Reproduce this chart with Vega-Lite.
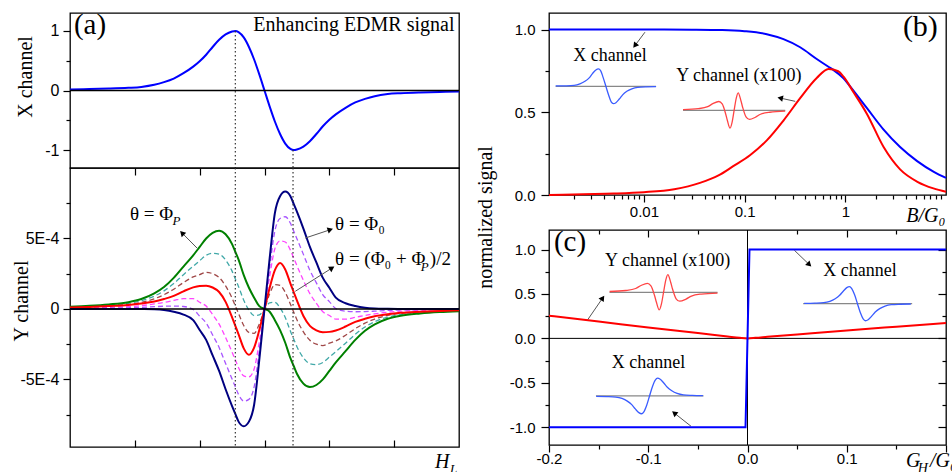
{
"$schema": "https://vega.github.io/schema/vega-lite/v6.json",
"autosize": {"type": "pad"},
"padding": {"left": 10, "top": 10, "right": 5, "bottom": 5},
"background": "white",
"config": {
  "view": {"stroke": "#000", "strokeWidth": 1.3},
  "axis": {"domain": false, "grid": false, "tickColor": "#000", "tickWidth": 1.2, "labelFont": "Liberation Sans", "labelFontSize": 15, "labelColor": "#000", "labelOverlap": false, "labelFlush": false, "titleFont": "Liberation Serif", "titleFontSize": 20, "titleFontWeight": "normal", "titleColor": "#000"},
  "text": {"font": "Liberation Serif", "color": "#000"},
  "line": {"interpolate": "monotone"}
},
"datasets": {
  "a": [
    {"x":-3.0,"X":0.018,"G":0.16,"C":0.13,"B":0.11,"R":0.1,"M":0.05,"V":0.03,"N":0},
    {"x":-2.7,"X":0.024,"G":0.22,"C":0.18,"B":0.15,"R":0.14,"M":0.07,"V":0.04,"N":0},
    {"x":-2.4,"X":0.032,"G":0.32,"C":0.27,"B":0.21,"R":0.2,"M":0.11,"V":0.05,"N":0},
    {"x":-2.1,"X":0.045,"G":0.48,"C":0.4,"B":0.32,"R":0.28,"M":0.16,"V":0.08,"N":0},
    {"x":-1.9,"X":0.06,"G":0.7,"C":0.58,"B":0.46,"R":0.38,"M":0.23,"V":0.11,"N":-0.01},
    {"x":-1.7,"X":0.095,"G":1.1,"C":0.91,"B":0.72,"R":0.52,"M":0.35,"V":0.16,"N":-0.03},
    {"x":-1.55,"X":0.14,"G":1.55,"C":1.28,"B":1.01,"R":0.7,"M":0.46,"V":0.19,"N":-0.08},
    {"x":-1.4,"X":0.2,"G":2.2,"C":1.8,"B":1.4,"R":0.92,"M":0.6,"V":0.2,"N":-0.2},
    {"x":-1.25,"X":0.29,"G":3.0,"C":2.43,"B":1.87,"R":1.25,"M":0.73,"V":0.17,"N":-0.4},
    {"x":-1.1,"X":0.4,"G":3.8,"C":3.03,"B":2.27,"R":1.53,"M":0.73,"V":-0.03,"N":-0.8},
    {"x":-1.0,"X":0.49,"G":4.4,"C":3.42,"B":2.43,"R":1.63,"M":0.47,"V":-0.52,"N":-1.5},
    {"x":-0.9,"X":0.6,"G":5.0,"C":3.8,"B":2.6,"R":1.65,"M":0.2,"V":-1.0,"N":-2.2},
    {"x":-0.8,"X":0.73,"G":5.4,"C":3.95,"B":2.5,"R":1.52,"M":-0.4,"V":-1.85,"N":-3.3},
    {"x":-0.7,"X":0.85,"G":5.55,"C":3.89,"B":2.23,"R":1.2,"M":-1.08,"V":-2.74,"N":-4.4},
    {"x":-0.6,"X":0.94,"G":5.3,"C":3.47,"B":1.63,"R":0.5,"M":-2.03,"V":-3.87,"N":-5.7},
    {"x":-0.5,"X":0.99,"G":4.6,"C":2.68,"B":0.77,"R":-0.6,"M":-3.07,"V":-4.98,"N":-6.9},
    {"x":-0.45,"X":1.0,"G":4.05,"C":2.13,"B":0.22,"R":-1.2,"M":-3.62,"V":-5.53,"N":-7.45},
    {"x":-0.4,"X":0.98,"G":3.5,"C":1.58,"B":-0.33,"R":-1.8,"M":-4.17,"V":-6.08,"N":-8.0},
    {"x":-0.32,"X":0.89,"G":2.4,"C":0.61,"B":-1.18,"R":-2.8,"M":-4.75,"V":-6.54,"N":-8.33},
    {"x":-0.24,"X":0.73,"G":1.5,"C":-0.08,"B":-1.67,"R":-3.26,"M":-4.83,"V":-6.42,"N":-8.0},
    {"x":-0.16,"X":0.52,"G":0.8,"C":-0.47,"B":-1.73,"R":-2.75,"M":-4.27,"V":-5.53,"N":-6.8},
    {"x":-0.08,"X":0.27,"G":0.2,"C":-0.43,"B":-1.07,"R":-1.5,"M":-2.33,"V":-2.97,"N":-3.6},
    {"x":0,"X":0,"G":0,"C":0,"B":0,"R":0,"M":0,"V":0,"N":0},
    {"x":0.08,"X":-0.27,"G":-0.2,"C":0.43,"B":1.07,"R":1.5,"M":2.33,"V":2.97,"N":3.6},
    {"x":0.16,"X":-0.52,"G":-0.8,"C":0.47,"B":1.73,"R":2.75,"M":4.27,"V":5.53,"N":6.8},
    {"x":0.24,"X":-0.73,"G":-1.5,"C":0.08,"B":1.67,"R":3.26,"M":4.83,"V":6.42,"N":8.0},
    {"x":0.32,"X":-0.89,"G":-2.4,"C":-0.61,"B":1.18,"R":2.8,"M":4.75,"V":6.54,"N":8.33},
    {"x":0.4,"X":-0.98,"G":-3.5,"C":-1.58,"B":0.33,"R":1.8,"M":4.17,"V":6.08,"N":8.0},
    {"x":0.45,"X":-1.0,"G":-4.05,"C":-2.13,"B":-0.22,"R":1.2,"M":3.62,"V":5.53,"N":7.45},
    {"x":0.5,"X":-0.99,"G":-4.6,"C":-2.68,"B":-0.77,"R":0.6,"M":3.07,"V":4.98,"N":6.9},
    {"x":0.6,"X":-0.94,"G":-5.3,"C":-3.47,"B":-1.63,"R":-0.5,"M":2.03,"V":3.87,"N":5.7},
    {"x":0.7,"X":-0.85,"G":-5.55,"C":-3.89,"B":-2.23,"R":-1.2,"M":1.08,"V":2.74,"N":4.4},
    {"x":0.8,"X":-0.73,"G":-5.4,"C":-3.95,"B":-2.5,"R":-1.52,"M":0.4,"V":1.85,"N":3.3},
    {"x":0.9,"X":-0.6,"G":-5.0,"C":-3.8,"B":-2.6,"R":-1.65,"M":-0.2,"V":1.0,"N":2.2},
    {"x":1.0,"X":-0.49,"G":-4.4,"C":-3.42,"B":-2.43,"R":-1.63,"M":-0.47,"V":0.52,"N":1.5},
    {"x":1.1,"X":-0.4,"G":-3.8,"C":-3.03,"B":-2.27,"R":-1.53,"M":-0.73,"V":0.03,"N":0.8},
    {"x":1.25,"X":-0.29,"G":-3.0,"C":-2.43,"B":-1.87,"R":-1.25,"M":-0.73,"V":-0.17,"N":0.4},
    {"x":1.4,"X":-0.2,"G":-2.2,"C":-1.8,"B":-1.4,"R":-0.92,"M":-0.6,"V":-0.2,"N":0.2},
    {"x":1.55,"X":-0.14,"G":-1.55,"C":-1.28,"B":-1.01,"R":-0.7,"M":-0.46,"V":-0.19,"N":0.08},
    {"x":1.7,"X":-0.095,"G":-1.1,"C":-0.91,"B":-0.72,"R":-0.52,"M":-0.35,"V":-0.16,"N":0.03},
    {"x":1.9,"X":-0.06,"G":-0.7,"C":-0.58,"B":-0.46,"R":-0.38,"M":-0.23,"V":-0.11,"N":0.01},
    {"x":2.1,"X":-0.045,"G":-0.48,"C":-0.4,"B":-0.32,"R":-0.28,"M":-0.16,"V":-0.08,"N":0},
    {"x":2.4,"X":-0.032,"G":-0.32,"C":-0.27,"B":-0.21,"R":-0.2,"M":-0.11,"V":-0.05,"N":0},
    {"x":2.7,"X":-0.024,"G":-0.22,"C":-0.18,"B":-0.15,"R":-0.14,"M":-0.07,"V":-0.04,"N":0},
    {"x":3.0,"X":-0.018,"G":-0.16,"C":-0.13,"B":-0.11,"R":-0.1,"M":-0.05,"V":-0.03,"N":0}
  ],
  "bX": [
    {"x":0.00114,"y":1.0},{"x":0.01,"y":1.0},{"x":0.03,"y":0.999},{"x":0.06,"y":0.997},{"x":0.1,"y":0.99},{"x":0.166,"y":0.972},{"x":0.243,"y":0.942},{"x":0.356,"y":0.893},{"x":0.52,"y":0.822},{"x":0.68,"y":0.775},{"x":0.765,"y":0.755},{"x":0.96,"y":0.705},{"x":1.12,"y":0.655},{"x":1.64,"y":0.525},{"x":2.4,"y":0.395},{"x":3.5,"y":0.29},{"x":5.17,"y":0.205},{"x":7.57,"y":0.14},{"x":10,"y":0.103}
  ],
  "bY": [
    {"x":0.00114,"y":0.0},{"x":0.0025,"y":0.005},{"x":0.005,"y":0.009},{"x":0.01,"y":0.017},{"x":0.02,"y":0.035},{"x":0.036,"y":0.073},{"x":0.055,"y":0.118},{"x":0.077,"y":0.174},{"x":0.113,"y":0.24},{"x":0.166,"y":0.33},{"x":0.243,"y":0.45},{"x":0.356,"y":0.585},{"x":0.52,"y":0.707},{"x":0.68,"y":0.762},{"x":0.85,"y":0.748},{"x":0.96,"y":0.715},{"x":1.21,"y":0.62},{"x":1.64,"y":0.49},{"x":2.4,"y":0.29},{"x":3.5,"y":0.155},{"x":5.2,"y":0.08},{"x":7.5,"y":0.04},{"x":10,"y":0.02}
  ],
  "bIX": [
    {"x":0.001328,"y":0.659},{"x":0.001671,"y":0.66},{"x":0.002024,"y":0.663},{"x":0.002312,"y":0.672},{"x":0.002594,"y":0.687},{"x":0.002857,"y":0.708},{"x":0.003081,"y":0.734},{"x":0.00333,"y":0.756},{"x":0.003527,"y":0.762},{"x":0.003709,"y":0.752},{"x":0.003936,"y":0.7095},{"x":0.004187,"y":0.657},{"x":0.004455,"y":0.6045},{"x":0.004727,"y":0.5625},{"x":0.004972,"y":0.552},{"x":0.005266,"y":0.558},{"x":0.005691,"y":0.58},{"x":0.00614,"y":0.6055},{"x":0.006759,"y":0.627},{"x":0.007578,"y":0.642},{"x":0.008656,"y":0.651},{"x":0.01049,"y":0.654},{"x":0.01319,"y":0.655}
  ],
  "bIY": [
    {"x":0.02444,"y":0.5156},{"x":0.0347,"y":0.5218},{"x":0.04298,"y":0.5339},{"x":0.04832,"y":0.5519},{"x":0.05537,"y":0.565},{"x":0.05985,"y":0.5502},{"x":0.06471,"y":0.4914},{"x":0.06729,"y":0.4521},{"x":0.0716,"y":0.4044},{"x":0.07503,"y":0.4391},{"x":0.07862,"y":0.511},{"x":0.08237,"y":0.5829},{"x":0.08631,"y":0.6176},{"x":0.09188,"y":0.5699},{"x":0.09553,"y":0.5306},{"x":0.1032,"y":0.4718},{"x":0.1116,"y":0.457},{"x":0.1279,"y":0.4701},{"x":0.1438,"y":0.4881},{"x":0.1781,"y":0.5002},{"x":0.2529,"y":0.5064}
  ],
  "cX": [
    {"x":-0.2,"y":-1},{"x":-0.002,"y":-1},{"x":0.002,"y":1},{"x":0.2,"y":1}
  ],
  "cY": [
    {"x":-0.2,"y":0.255},{"x":-0.15,"y":0.19},{"x":-0.1,"y":0.122},{"x":-0.05,"y":0.06},{"x":-0.02,"y":0.022},{"x":-0.008,"y":0.007},{"x":0,"y":0},{"x":0.008,"y":0.006},{"x":0.02,"y":0.018},{"x":0.05,"y":0.045},{"x":0.1,"y":0.09},{"x":0.15,"y":0.132},{"x":0.2,"y":0.173}
  ],
  "cIY": [
    {"x":-0.13897,"y":0.5275},{"x":-0.12266,"y":0.5391},{"x":-0.11269,"y":0.5617},{"x":-0.10725,"y":0.5953},{"x":-0.1009,"y":0.6197},{"x":-0.09728,"y":0.5922},{"x":-0.09365,"y":0.4824},{"x":-0.09184,"y":0.4092},{"x":-0.08894,"y":0.3201},{"x":-0.08677,"y":0.3848},{"x":-0.08459,"y":0.519},{"x":-0.08241,"y":0.6532},{"x":-0.08024,"y":0.7179},{"x":-0.07734,"y":0.6288},{"x":-0.07553,"y":0.5556},{"x":-0.0719,"y":0.4458},{"x":-0.06828,"y":0.4184},{"x":-0.06193,"y":0.4428},{"x":-0.05649,"y":0.4763},{"x":-0.04652,"y":0.4989},{"x":-0.03021,"y":0.5105}
  ],
  "cIX1": [
    {"x":0.057,"y":0.394},{"x":0.06776,"y":0.3966},{"x":0.07672,"y":0.402},{"x":0.083,"y":0.4174},{"x":0.08837,"y":0.4462},{"x":0.09285,"y":0.4846},{"x":0.09644,"y":0.5307},{"x":0.10002,"y":0.571},{"x":0.10271,"y":0.5825},{"x":0.10504,"y":0.5614},{"x":0.10791,"y":0.4903},{"x":0.11078,"y":0.3905},{"x":0.11365,"y":0.2907},{"x":0.11652,"y":0.2196},{"x":0.11885,"y":0.1985},{"x":0.12154,"y":0.21},{"x":0.12512,"y":0.2503},{"x":0.12871,"y":0.2964},{"x":0.13319,"y":0.3348},{"x":0.13856,"y":0.3636},{"x":0.14484,"y":0.379},{"x":0.1538,"y":0.3844},{"x":0.16456,"y":0.387}
  ],
  "cIX2": [
    {"x":-0.15247,"y":-0.6516},{"x":-0.14171,"y":-0.6544},{"x":-0.13275,"y":-0.66},{"x":-0.12647,"y":-0.676},{"x":-0.1211,"y":-0.706},{"x":-0.11662,"y":-0.746},{"x":-0.11303,"y":-0.794},{"x":-0.10945,"y":-0.836},{"x":-0.10676,"y":-0.848},{"x":-0.10443,"y":-0.826},{"x":-0.10156,"y":-0.752},{"x":-0.09869,"y":-0.648},{"x":-0.09582,"y":-0.544},{"x":-0.09295,"y":-0.47},{"x":-0.09062,"y":-0.448},{"x":-0.08794,"y":-0.46},{"x":-0.08435,"y":-0.502},{"x":-0.08077,"y":-0.55},{"x":-0.07628,"y":-0.59},{"x":-0.07091,"y":-0.62},{"x":-0.06463,"y":-0.636},{"x":-0.05567,"y":-0.6416},{"x":-0.04491,"y":-0.6444}
  ]
},
"spacing": 10,
"bounds": "full",
"hconcat": [
 {
  "spacing": 0,
  "bounds": "flush",
  "vconcat": [
   {
    "width": 389, "height": 155,
    "encoding": {
      "x": {"field": "x", "type": "quantitative", "scale": {"domain": [-3, 3], "nice": false, "zero": false}, "axis": null},
      "y": {"field": "y", "type": "quantitative", "scale": {"domain": [-1.3, 1.3], "nice": false, "zero": false},
            "axis": {"values": [-1, -0.5, 0, 0.5, 1], "labelExpr": "datum.value == 1 ? '1' : datum.value == 0 ? '0' : datum.value == -1 ? '-1' : ''", "tickSize": {"condition": {"test": "abs(datum.value) == 0.5", "value": 4}, "value": 7}, "labelPadding": 4, "labelFontSize": 16, "title": "X channel", "titleX": -39, "titleY": 63.5, "titleAngle": -90, "titleAlign": "center", "titleBaseline": "alphabetic"}}
    },
    "layer": [
      {"data": {"name": "a"}, "transform": [{"fold": ["X"], "as": ["s", "y"]}], "mark": {"type": "line", "color": "#0000ff", "strokeWidth": 2}},
      {"data": {"values": [{"x": -3, "x2": 3, "y": 0}]}, "mark": {"type": "rule", "color": "#000", "strokeWidth": 1.5}, "encoding": {"x2": {"field": "x2"}}},
      {"data": {"values": [{"x": -0.45, "y": 1, "y2": -1.3}, {"x": 0.44, "y": -1, "y2": -1.3}]}, "mark": {"type": "rule", "color": "#333", "strokeWidth": 1.2, "strokeDash": [1.5, 2.5]}, "encoding": {"y2": {"field": "y2"}}},
      {"data": {"values": [{"x": -2.94, "y": 0.948, "t": "(a)"}]}, "mark": {"type": "text", "align": "left", "baseline": "alphabetic", "fontSize": 29}, "encoding": {"text": {"field": "t"}}},
      {"data": {"values": [{"x": 2.93, "y": 0.993, "t": "Enhancing EDMR signal"}]}, "mark": {"type": "text", "align": "right", "baseline": "alphabetic", "fontSize": 20}, "encoding": {"text": {"field": "t"}}}
    ]
   },
   {
    "width": 389, "height": 279,
    "encoding": {
      "x": {"field": "x", "type": "quantitative", "scale": {"domain": [-3, 3], "nice": false, "zero": false}, "axis": null},
      "y": {"field": "y", "type": "quantitative", "scale": {"domain": [-9.8, 10], "nice": false, "zero": false},
            "axis": {"values": [-7.5, -5, -2.5, 0, 2.5, 5, 7.5], "labelExpr": "datum.value == 5 ? '5E-4' : datum.value == -5 ? '-5E-4' : datum.value == 0 ? '0' : ''", "tickSize": {"condition": {"test": "datum.value % 5 == 0", "value": 7}, "value": 4}, "labelPadding": 4, "labelFontSize": 16, "title": "Y channel", "titleX": -43, "titleY": 132.5, "titleAngle": -90, "titleAlign": "center", "titleBaseline": "alphabetic"}}
    },
    "resolve": {"axis": {"x": "independent"}},
    "layer": [
      {"data": {"name": "a"}, "transform": [{"fold": ["C", "B", "M", "V"], "as": ["s", "y"]}], "mark": {"type": "line", "strokeWidth": 1.3, "strokeDash": [5, 3]},
       "encoding": {"color": {"field": "s", "type": "nominal", "scale": {"domain": ["G", "C", "B", "R", "M", "V", "N"], "range": ["#008000", "#40a8a8", "#a04848", "#ff0000", "#ff44ff", "#a855ff", "#000080"]}, "legend": null}}},
      {"data": {"name": "a"}, "transform": [{"fold": ["G", "R", "N"], "as": ["s", "y"]}], "mark": {"type": "line", "strokeWidth": 2},
       "encoding": {
         "x": {"field": "x", "type": "quantitative", "scale": {"domain": [-3, 3], "nice": false, "zero": false}, "axis": {"orient": "bottom", "values": [-2, -1, 0, 1, 2], "labels": false, "tickSize": -7, "title": null}},
         "color": {"field": "s", "type": "nominal", "scale": {"domain": ["G", "C", "B", "R", "M", "V", "N"], "range": ["#008000", "#40a8a8", "#a04848", "#ff0000", "#ff44ff", "#a855ff", "#000080"]}, "legend": null}}},
      {"data": {"values": [{"x": -3, "x2": 3, "y": 0}]}, "mark": {"type": "rule", "color": "#000", "strokeWidth": 1.5}, "encoding": {"x2": {"field": "x2"}}},
      {"data": {"values": [{"x": -0.45, "y": 10, "y2": -9.8}, {"x": 0.44, "y": 10, "y2": -9.8}]}, "mark": {"type": "rule", "color": "#333", "strokeWidth": 1.2, "strokeDash": [1.5, 2.5]},
       "encoding": {"x": {"field": "x", "type": "quantitative", "scale": {"domain": [-3, 3], "nice": false, "zero": false}, "axis": {"orient": "top", "values": [-2, -1, 0, 1, 2], "labels": false, "tickSize": -7, "title": null}}, "y2": {"field": "y2"}}},
      {"data": {"values": [{"x": -1.041, "y": 4.32, "x2": -1.272, "y2": 5.39}, {"x": 0.629, "y": 5.03, "x2": 1.015, "y2": 5.62}, {"x": 0.475, "y": 1.25, "x2": 1.041, "y2": 2.9}]}, "mark": {"type": "rule", "color": "#555", "strokeWidth": 1}, "encoding": {"x2": {"field": "x2"}, "y2": {"field": "y2"}}},
      {"data": {"values": [{"x": -1.272, "y": 5.39}]}, "mark": {"type": "point", "shape": "triangle-up", "filled": true, "color": "#000", "size": 40, "opacity": 1, "angle": 315}},
      {"data": {"values": [{"x": 1.015, "y": 5.62}]}, "mark": {"type": "point", "shape": "triangle-up", "filled": true, "color": "#000", "size": 40, "opacity": 1, "angle": 72}},
      {"data": {"values": [{"x": 1.041, "y": 2.9}]}, "mark": {"type": "point", "shape": "triangle-up", "filled": true, "color": "#000", "size": 40, "opacity": 1, "angle": 58}},
      {"data": {"values": [{"x": -2.075, "y": 6.33, "t": "θ = Φ"}, {"x": 1.088, "y": 5.62, "t": "θ = Φ₀"}, {"x": 1.088, "y": 3.14, "t": "θ = (Φ₀ + Φ"}, {"x": 2.55, "y": 3.14, "t": ")/2"}]}, "mark": {"type": "text", "align": "left", "baseline": "alphabetic", "fontSize": 19}, "encoding": {"text": {"field": "t"}}},
      {"data": {"values": [{"x": -1.42, "y": 5.95, "t": "P"}, {"x": 2.41, "y": 2.69, "t": "P"}, {"x": 2.862, "y": -11.65, "t": "L"}]}, "mark": {"type": "text", "align": "left", "baseline": "alphabetic", "fontSize": 13, "fontStyle": "italic"}, "encoding": {"text": {"field": "t"}}},
      {"data": {"values": [{"x": 2.63, "y": -11.29, "t": "H"}]}, "mark": {"type": "text", "align": "left", "baseline": "alphabetic", "fontSize": 20, "fontStyle": "italic"}, "encoding": {"text": {"field": "t"}}}
    ]
   }
  ]
 },
 {
  "spacing": 35,
  "bounds": "flush",
  "vconcat": [
   {
    "width": 397, "height": 182,
    "encoding": {
      "x": {"field": "x", "type": "quantitative", "scale": {"type": "log", "domain": [0.00114, 10], "nice": false},
            "axis": {"values": [0.002, 0.003, 0.004, 0.005, 0.006, 0.007, 0.008, 0.009, 0.01, 0.02, 0.03, 0.04, 0.05, 0.06, 0.07, 0.08, 0.09, 0.1, 0.2, 0.3, 0.4, 0.5, 0.6, 0.7, 0.8, 0.9, 1, 2, 3, 4, 5, 6, 7, 8, 9],
                     "labelExpr": "datum.value == 0.01 ? '0.01' : datum.value == 0.1 ? '0.1' : datum.value == 1 ? '1' : ''",
                     "tickSize": {"condition": {"test": "datum.value == 0.01 || datum.value == 0.1 || datum.value == 1", "value": 7}, "value": 4},
                     "labelPadding": 2, "title": "B/G₀", "titleFontStyle": "italic", "titleX": 396, "titleY": 26, "titleAlign": "right", "titleBaseline": "alphabetic", "titleAngle": 0}},
      "y": {"field": "y", "type": "quantitative", "scale": {"domain": [0, 1.1], "nice": false, "zero": false},
            "axis": {"values": [0, 0.25, 0.5, 0.75, 1], "labelExpr": "datum.value == 0 ? '0.0' : datum.value == 0.5 ? '0.5' : datum.value == 1 ? '1.0' : ''", "tickSize": {"condition": {"test": "datum.value == 0.25 || datum.value == 0.75", "value": 4}, "value": 8}, "labelPadding": 6, "title": "normalized signal", "titleX": -58, "titleY": 204, "titleAngle": -90, "titleAlign": "center", "titleBaseline": "alphabetic"}}
    },
    "layer": [
      {"data": {"values": [{"x": 0.001328, "x2": 0.01319, "y": 0.657}, {"x": 0.02444, "x2": 0.2529, "y": 0.511}]}, "mark": {"type": "rule", "color": "#888", "strokeWidth": 1.2}, "encoding": {"x2": {"field": "x2"}}},
      {"data": {"name": "bIX"}, "mark": {"type": "line", "color": "#3a5cff", "strokeWidth": 1.3}},
      {"data": {"name": "bIY"}, "mark": {"type": "line", "color": "#ff4444", "strokeWidth": 1.3}},
      {"data": {"values": [{"x": 0.01023, "y": 0.984, "x2": 0.008135, "y2": 0.903}, {"x": 0.3181, "y": 0.566, "x2": 0.2255, "y2": 0.586}]}, "mark": {"type": "rule", "color": "#555", "strokeWidth": 1}, "encoding": {"x2": {"field": "x2"}, "y2": {"field": "y2"}}},
      {"data": {"values": [{"x": 0.008135, "y": 0.903}]}, "mark": {"type": "point", "shape": "triangle-up", "filled": true, "color": "#000", "size": 40, "opacity": 1, "angle": 217}},
      {"data": {"values": [{"x": 0.2255, "y": 0.586}]}, "mark": {"type": "point", "shape": "triangle-up", "filled": true, "color": "#000", "size": 40, "opacity": 1, "angle": 282}},
      {"data": {"values": [{"x": 3.73, "y": 0.961, "t": "(b)"}]}, "mark": {"type": "text", "align": "left", "baseline": "alphabetic", "fontSize": 30}, "encoding": {"text": {"field": "t"}}},
      {"data": {"values": [{"x": 0.004596, "y": 0.81, "t": "X channel"}, {"x": 0.08777, "y": 0.689, "t": "Y channel (x100)"}]}, "mark": {"type": "text", "align": "center", "baseline": "alphabetic", "fontSize": 18}, "encoding": {"text": {"field": "t"}}},
      {"data": {"name": "bX"}, "mark": {"type": "line", "color": "#0000ff", "strokeWidth": 2}},
      {"data": {"name": "bY"}, "mark": {"type": "line", "color": "#ff0000", "strokeWidth": 2}}
    ]
   },
   {
    "width": 397, "height": 215,
    "encoding": {
      "x": {"field": "x", "type": "quantitative", "scale": {"domain": [-0.2, 0.2], "nice": false, "zero": false}, "axis": null},
      "y": {"field": "y", "type": "quantitative", "scale": {"domain": [-1.2, 1.22], "nice": false, "zero": false}, "axis": null}
    },
    "resolve": {"axis": {"x": "independent", "y": "independent"}},
    "layer": [
      {"data": {"values": [{"x": -0.2, "x2": 0.2, "y": 0}]}, "mark": {"type": "rule", "color": "#000", "strokeWidth": 1},
       "encoding": {
         "x": {"field": "x", "type": "quantitative", "scale": {"domain": [-0.2, 0.2], "nice": false, "zero": false},
               "axis": {"orient": "bottom", "values": [-0.2, -0.15, -0.1, -0.05, 0, 0.05, 0.1, 0.15, 0.2], "labelExpr": "(abs(datum.value*10 - round(datum.value*10)) < 0.001 && datum.value < 0.15) ? ((datum.value < -0.0001 ? '-' : '') + format(abs(datum.value), '.1f')) : ''", "tickSize": {"condition": {"test": "abs(datum.value*10 - round(datum.value*10)) < 0.001", "value": 7}, "value": 4}, "labelPadding": -1, "title": null}},
         "y": {"field": "y", "type": "quantitative", "scale": {"domain": [-1.2, 1.22], "nice": false, "zero": false},
               "axis": {"orient": "left", "values": [-1, -0.75, -0.5, -0.25, 0, 0.25, 0.5, 0.75, 1], "labelExpr": "abs(datum.value*2 - round(datum.value*2)) < 0.001 ? ((datum.value < -0.0001 ? '-' : '') + format(abs(datum.value), '.1f')) : ''", "tickSize": {"condition": {"test": "abs(datum.value*2 - round(datum.value*2)) < 0.001", "value": 8}, "value": 4}, "labelPadding": 6, "title": null}},
         "x2": {"field": "x2"}}},
      {"data": {"values": [{"x": 0, "y": -1.2, "y2": 1.22}]}, "mark": {"type": "rule", "color": "#000", "strokeWidth": 1},
       "encoding": {
         "x": {"field": "x", "type": "quantitative", "scale": {"domain": [-0.2, 0.2], "nice": false, "zero": false},
               "axis": {"orient": "top", "values": [-0.15, -0.1, -0.05, 0.05, 0.1, 0.15], "labels": false, "tickSize": {"condition": {"test": "abs(datum.value*10 - round(datum.value*10)) < 0.001", "value": -7}, "value": -4}, "title": null}},
         "y": {"field": "y", "type": "quantitative", "scale": {"domain": [-1.2, 1.22], "nice": false, "zero": false},
               "axis": {"orient": "right", "values": [-1, -0.75, -0.5, -0.25, 0, 0.25, 0.5, 0.75, 1], "labels": false, "tickSize": {"condition": {"test": "abs(datum.value*2 - round(datum.value*2)) < 0.001", "value": -8}, "value": -4}, "title": null}},
         "y2": {"field": "y2"}}},
      {"data": {"values": [{"x": -0.139, "x2": -0.0302, "y": 0.519}, {"x": 0.0561, "x2": 0.1659, "y": 0.3905}, {"x": -0.1527, "x2": -0.0443, "y": -0.648}]}, "mark": {"type": "rule", "color": "#888", "strokeWidth": 1.2}, "encoding": {"x2": {"field": "x2"}}},
      {"data": {"name": "cIY"}, "mark": {"type": "line", "color": "#ff4444", "strokeWidth": 1.3}},
      {"data": {"name": "cIX1"}, "mark": {"type": "line", "color": "#3a5cff", "strokeWidth": 1.3}},
      {"data": {"name": "cIX2"}, "mark": {"type": "line", "color": "#3a5cff", "strokeWidth": 1.3}},
      {"data": {"values": [{"x": 0.0472, "y": 0.992, "x2": 0.0623, "y2": 0.83}, {"x": -0.161, "y": 0.21, "x2": -0.1459, "y2": 0.455}, {"x": -0.0569, "y": -0.989, "x2": -0.0738, "y2": -0.84}]}, "mark": {"type": "rule", "color": "#555", "strokeWidth": 1}, "encoding": {"x2": {"field": "x2"}, "y2": {"field": "y2"}}},
      {"data": {"values": [{"x": 0.0623, "y": 0.83}]}, "mark": {"type": "point", "shape": "triangle-up", "filled": true, "color": "#000", "size": 40, "opacity": 1, "angle": 134}},
      {"data": {"values": [{"x": -0.1459, "y": 0.455}]}, "mark": {"type": "point", "shape": "triangle-up", "filled": true, "color": "#000", "size": 40, "opacity": 1, "angle": 35}},
      {"data": {"values": [{"x": -0.0738, "y": -0.84}]}, "mark": {"type": "point", "shape": "triangle-up", "filled": true, "color": "#000", "size": 40, "opacity": 1, "angle": 308}},
      {"data": {"values": [{"x": -0.195, "y": 0.984, "t": "(c)"}]}, "mark": {"type": "text", "align": "left", "baseline": "alphabetic", "fontSize": 29}, "encoding": {"text": {"field": "t"}}},
      {"data": {"values": [{"x": -0.0804, "y": 0.815, "t": "Y channel (x100)"}, {"x": 0.1134, "y": 0.699, "t": "X channel"}, {"x": -0.0997, "y": -0.333, "t": "X channel"}]}, "mark": {"type": "text", "align": "center", "baseline": "alphabetic", "fontSize": 18}, "encoding": {"text": {"field": "t"}}},
      {"data": {"values": [{"x": 0.1597, "y": -1.4475, "t": "G"}, {"x": 0.1838, "y": -1.4475, "t": "/G₀"}]}, "mark": {"type": "text", "align": "left", "baseline": "alphabetic", "fontSize": 20, "fontStyle": "italic"}, "encoding": {"text": {"field": "t"}}},
      {"data": {"values": [{"x": 0.1715, "y": -1.515, "t": "H"}]}, "mark": {"type": "text", "align": "left", "baseline": "alphabetic", "fontSize": 14, "fontStyle": "italic"}, "encoding": {"text": {"field": "t"}}},
      {"data": {"name": "cY"}, "mark": {"type": "line", "color": "#ff0000", "strokeWidth": 2}},
      {"data": {"name": "cX"}, "mark": {"type": "line", "color": "#0000ff", "strokeWidth": 2, "interpolate": "linear"}}
    ]
   }
  ]
 }
]
}
